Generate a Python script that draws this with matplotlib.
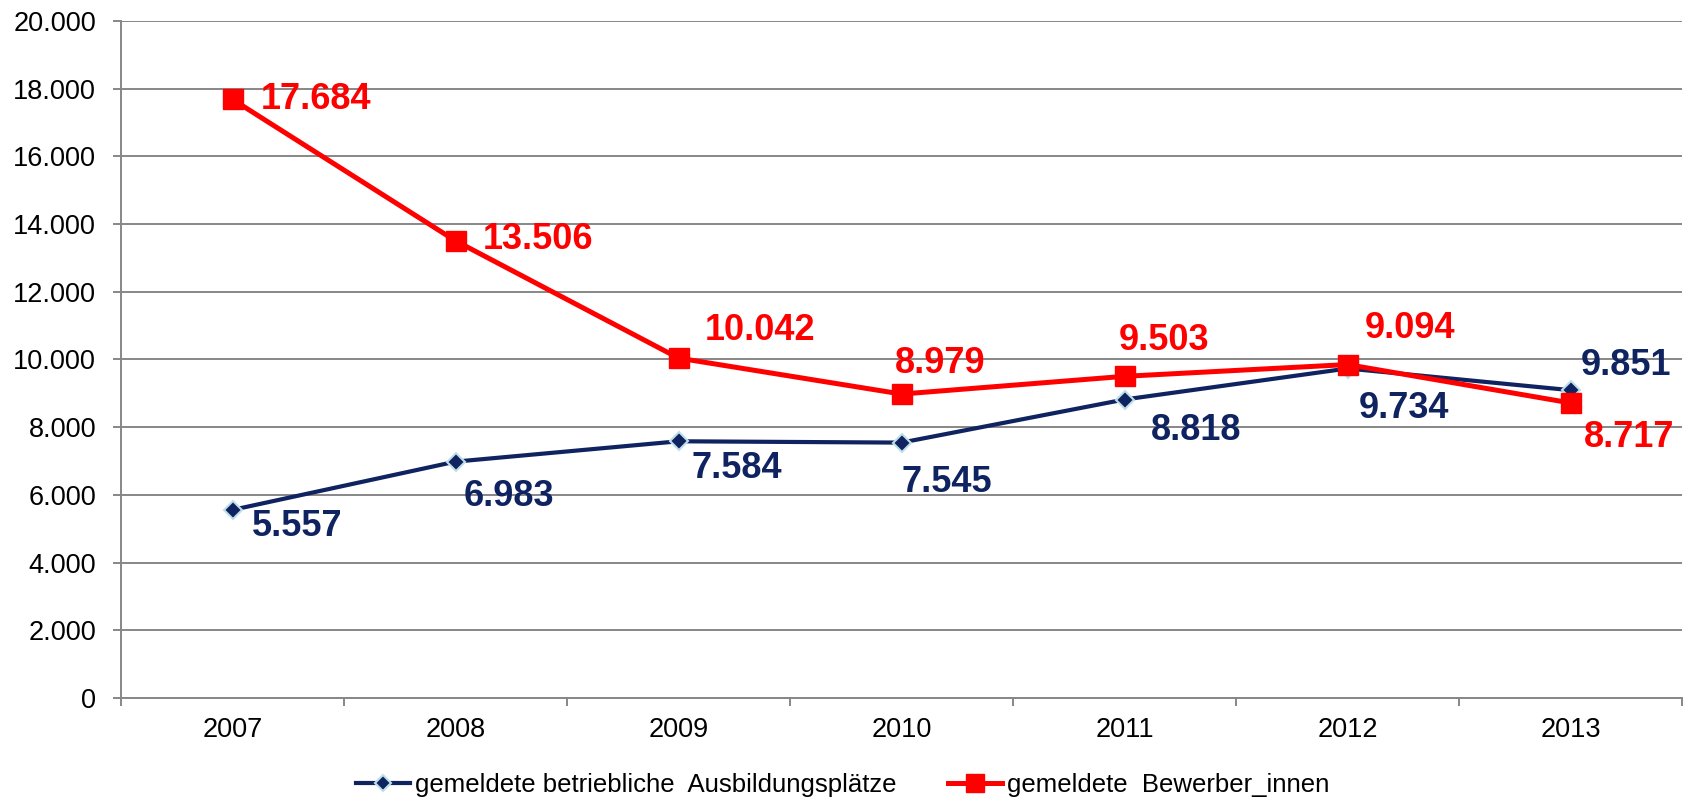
import numpy as np
import matplotlib
matplotlib.use('Agg')
import matplotlib.pyplot as plt
from matplotlib.ticker import FixedLocator, FuncFormatter

plt.rcParams['font.family'] = ['Liberation Sans', 'DejaVu Sans']

years = ['2007', '2008', '2009', '2010', '2011', '2012', '2013']
# point values as drawn in the source chart
plaetze = [5557, 6983, 7584, 7545, 8818, 9734, 9094]
bewerber = [17684, 13506, 10042, 8979, 9503, 9851, 8717]
# labels as printed (2012/2013 labels are swapped in the original)
plaetze_labels = ['5.557', '6.983', '7.584', '7.545', '8.818', '9.734', '9.851']
bewerber_labels = ['17.684', '13.506', '10.042', '8.979', '9.503', '9.094', '8.717']
names = ['gemeldete betriebliche  Ausbildungsplätze', 'gemeldete  Bewerber_innen']

blue = '#0E2360'
red = '#FF0000'
grid = '#878787'

# label offsets in pixels (left edge, centre below point)
blue_off = [(19, 17), (8, 35), (13, 27), (0, 40), (26, 31), (11, 40), (10, -25)]
red_off = [(28, 0), (27, -1), (26, -28), (-7, -31), (-6, -36), (17, -36), (13, 35)]

fig = plt.figure(figsize=(16.86, 8.01), dpi=100)
ax = fig.add_axes([121/1686, 103/801, 1561/1686, 677/801])

x = np.arange(len(years))
ax.plot(x, plaetze, color=blue, lw=3, marker='D', ms=9, mfc=blue, mec='#BFE0E8', mew=1.5,
        label=names[0], zorder=3)
ax.plot(x, bewerber, color=red, lw=3.6, marker='s', ms=15, mfc=red, mec=red,
        label=names[1], zorder=4)

px = 0.72
for i in range(len(years)):
    dx, dy = blue_off[i]
    ax.annotate(plaetze_labels[i], (x[i], plaetze[i]), xytext=(dx*px, -dy*px),
                textcoords='offset points', ha='left', va='center',
                fontsize=26, fontweight='bold', color=blue, zorder=5)
    dx, dy = red_off[i]
    ax.annotate(bewerber_labels[i], (x[i], bewerber[i]), xytext=(dx*px, -dy*px),
                textcoords='offset points', ha='left', va='center',
                fontsize=26, fontweight='bold', color=red, zorder=5)

ax.set_xlim(-0.5, len(years) - 0.5)
ax.set_ylim(0, 20000)
ax.set_yticks(np.arange(0, 20001, 2000))
ax.yaxis.set_major_formatter(FuncFormatter(lambda v, p: f'{int(v):,}'.replace(',', '.')))
ax.grid(axis='y', color=grid, lw=1.4)
ax.set_axisbelow(True)

ax.xaxis.set_major_locator(FixedLocator(np.arange(-0.5, len(years), 1.0)))
ax.xaxis.set_minor_locator(FixedLocator(x))
ax.set_xticklabels([], minor=False)
ax.set_xticklabels(years, minor=True)
ax.tick_params(axis='x', which='major', length=6, width=1.4, color=grid)
ax.tick_params(axis='x', which='minor', length=0, pad=14, labelsize=19.5)
ax.tick_params(axis='y', length=6, width=1.4, color=grid, pad=12, labelsize=19.5)

for s in ['top', 'right']:
    ax.spines[s].set_visible(False)
for s in ['left', 'bottom']:
    ax.spines[s].set_color(grid)
    ax.spines[s].set_linewidth(1.4)

fig.legend(loc='center', bbox_to_anchor=(0.5, 16/801), ncol=2, frameon=False,
           fontsize=18.5, handlelength=2.1, handletextpad=0.2, columnspacing=2.0,
           markerscale=0.9)

fig.savefig('out.png', dpi=100)
